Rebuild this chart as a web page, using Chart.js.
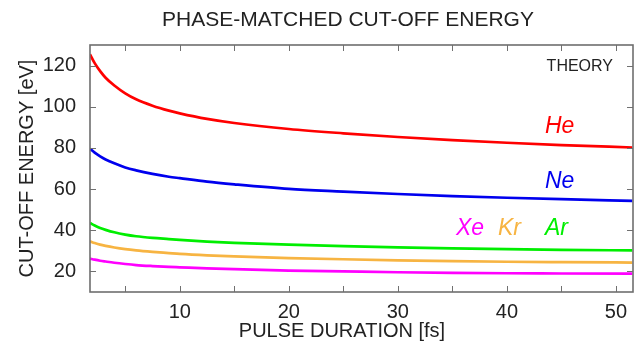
<!DOCTYPE html>
<html>
<head>
<meta charset="utf-8">
<script src="https://cdn.jsdelivr.net/npm/chart.js@4"></script>
<style>
  html, body { margin: 0; padding: 0; background: #fff; }
  #wrap { width: 639px; height: 341px; }
</style>
</head>
<body>
<div id="wrap"><canvas id="grafico" width="639" height="341"></canvas></div>
<script>
// pulse duration [fs]
const duracao = [1.77, 2.2, 2.7, 3.2, 4, 5, 6, 7.5, 9, 10, 12.5, 15, 20, 25, 30, 35, 40, 45, 51.5];
// cut-off energy [eV]
const energiaHe = [125.5, 121.2, 117.3, 114.1, 110.3, 106.5, 103.6, 100.5, 98.1, 96.8, 94.1, 92.1, 89.2, 87.1, 85.3, 83.8, 82.5, 81.4, 80.2];
const energiaNe = [79.6, 77.7, 75.9, 74.4, 72.5, 70.5, 69.1, 67.4, 66.0, 65.3, 63.6, 62.3, 60.1, 58.8, 57.6, 56.6, 55.8, 55.1, 54.3];
const energiaAr = [43.5, 42.3, 41.1, 40.2, 39.0, 37.9, 37.1, 36.3, 35.7, 35.3, 34.5, 33.9, 33.0, 32.3, 31.7, 31.2, 30.8, 30.5, 30.2];
const energiaKr = [34.6, 33.8, 33.0, 32.4, 31.6, 30.8, 30.2, 29.5, 28.9, 28.5, 27.8, 27.3, 26.5, 25.9, 25.4, 25.0, 24.7, 24.5, 24.3];
const energiaXe = [26.2, 25.7, 25.2, 24.8, 24.2, 23.6, 23.1, 22.6, 22.2, 22.0, 21.5, 21.1, 20.4, 20.0, 19.6, 19.3, 19.1, 19.0, 18.9];

const gases = ["He", "Ne", "Ar", "Kr", "Xe"];
const cores = ["#ff0000", "#0000ee", "#00ee00", "#f7b442", "#ff00ff"];
const series = [energiaHe, energiaNe, energiaAr, energiaKr, energiaXe];

const xTicks = [10, 20, 30, 40, 50];
const yTicks = [20, 40, 60, 80, 100, 120];

const fonte = "'Liberation Sans', Arial, Helvetica, sans-serif";
const corTexto = "#222";

function pontos(valores) {
  return duracao.map((d, i) => ({ x: d, y: valores[i] }));
}

const datasets = series.map((s, i) => ({
  label: gases[i],
  data: pontos(s),
  borderColor: cores[i],
  backgroundColor: cores[i],
  borderWidth: 2.7,
  pointRadius: 0,
  cubicInterpolationMode: "monotone",
  fill: false,
}));

// frame, inward ticks and free text (gnuplot look)
const molduraPlugin = {
  id: "moldura",
  afterDraw(chart) {
    const ctx = chart.ctx;
    const a = chart.chartArea;
    const sx = chart.scales.x;
    const sy = chart.scales.y;
    ctx.save();
    ctx.strokeStyle = "#707070";
    ctx.lineWidth = 1;
    for (let v = 5; v <= 50; v += 5) {
      const px = Math.round(sx.getPixelForValue(v)) + 0.5;
      ctx.beginPath();
      ctx.moveTo(px, a.bottom); ctx.lineTo(px, a.bottom - 6);
      ctx.moveTo(px, a.top); ctx.lineTo(px, a.top + 6);
      ctx.stroke();
    }
    yTicks.forEach((v) => {
      const py = Math.round(sy.getPixelForValue(v)) + 0.5;
      ctx.beginPath();
      ctx.moveTo(a.left, py); ctx.lineTo(a.left + 6, py);
      ctx.moveTo(a.right, py); ctx.lineTo(a.right - 6, py);
      ctx.stroke();
    });
    ctx.lineWidth = 1.6;
    ctx.strokeStyle = "#6e6e6e";
    ctx.strokeRect(a.left, a.top, a.right - a.left, a.bottom - a.top);

    ctx.fillStyle = corTexto;
    ctx.textBaseline = "middle";
    ctx.textAlign = "center";
    ctx.font = "21px " + fonte;
    ctx.fillText("PHASE-MATCHED CUT-OFF ENERGY", 348, 20);
    ctx.font = "20px " + fonte;
    ctx.fillText("PULSE DURATION [fs]", 342, 331);

    ctx.textAlign = "right";
    ctx.font = "16px " + fonte;
    ctx.fillText("THEORY", 613, 67);

    ctx.textAlign = "left";
    ctx.font = "italic 23px " + fonte;
    ctx.fillStyle = cores[0]; ctx.fillText("He", 545, 127);
    ctx.fillStyle = cores[1]; ctx.fillText("Ne", 545, 182);
    ctx.fillStyle = cores[4]; ctx.fillText("Xe", 456, 229);
    ctx.fillStyle = cores[3]; ctx.fillText("Kr", 498, 229);
    ctx.fillStyle = cores[2]; ctx.fillText("Ar", 545, 229);
    ctx.restore();
  },
};

new Chart(document.getElementById("grafico"), {
  type: "line",
  data: { datasets },
  options: {
    responsive: false,
    animation: false,
    layout: { padding: { top: 45, right: 6, left: 0, bottom: 0 } },
    plugins: {
      legend: { display: false },
      tooltip: { enabled: false },
    },
    scales: {
      x: {
        type: "linear",
        min: 1.77,
        max: 51.56,
        grid: { display: false, drawTicks: false },
        border: { display: false },
        afterBuildTicks: (s) => { s.ticks = xTicks.map((v) => ({ value: v })); },
        afterFit: (s) => { s.height = 49; },
        ticks: { color: corTexto, font: { size: 20, family: fonte }, padding: 8, maxRotation: 0 },
      },
      y: {
        min: 10,
        max: 130,
        grid: { display: false, drawTicks: false },
        border: { display: false },
        afterBuildTicks: (s) => { s.ticks = yTicks.map((v) => ({ value: v })); },
        afterFit: (s) => { s.width = 90; },
        ticks: { color: corTexto, font: { size: 20, family: fonte }, padding: 14 },
        title: {
          display: true,
          text: "CUT-OFF ENERGY [eV]",
          color: corTexto,
          font: { size: 20, family: fonte },
          padding: { top: 15, bottom: 0 },
        },
      },
    },
  },
  plugins: [molduraPlugin],
});
</script>
</body>
</html>
